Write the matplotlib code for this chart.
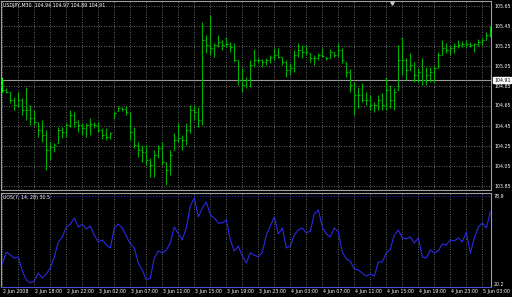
import matplotlib
matplotlib.use("Agg")
import matplotlib.pyplot as plt
from matplotlib.collections import LineCollection

W, H = 512, 297

# USDJPY M30 bars (high, low, close)
highs = [
    104.93, 104.83, 104.79, 104.74, 104.79, 104.73, 104.84, 104.66, 104.61, 104.49,
    104.51, 104.41, 104.29, 104.28, 104.44, 104.44, 104.48, 104.61, 104.59, 104.51,
    104.48, 104.48, 104.53, 104.49, 104.49, 104.43, 104.43, 104.39, 104.60, 104.65,
    104.64, 104.65, 104.58, 104.44, 104.29, 104.26, 104.26, 104.13, 104.21, 104.26,
    104.29, 104.09, 104.21, 104.38, 104.48, 104.36, 104.48, 104.66, 104.66, 104.64,
    105.49, 105.36, 105.56, 105.28, 105.36, 105.31, 105.34, 105.29, 105.28, 105.11,
    105.03, 104.94, 105.11, 105.22, 105.13, 105.12, 105.13, 105.16, 105.23, 105.23,
    105.14, 105.11, 105.08, 105.21, 105.28, 105.26, 105.26, 105.18, 105.16, 105.18,
    105.23, 105.14, 105.22, 105.19, 105.28, 105.23, 105.09, 105.02, 104.89, 104.84,
    104.88, 104.79, 104.76, 104.69, 104.76, 104.78, 104.94, 104.86, 104.83, 105.26,
    105.34, 105.13, 105.18, 105.09, 105.03, 105.13, 105.04, 105.04, 105.06, 105.19,
    105.31, 105.28, 105.25, 105.28, 105.31, 105.30, 105.31, 105.29, 105.28, 105.32,
    105.33, 105.39, 105.45,
]
lows = [
    104.79, 104.78, 104.68, 104.61, 104.64, 104.56, 104.51, 104.46, 104.46, 104.34,
    104.29, 104.01, 104.11, 104.19, 104.28, 104.33, 104.34, 104.44, 104.44, 104.39,
    104.36, 104.34, 104.36, 104.43, 104.39, 104.32, 104.31, 104.32, 104.53, 104.60,
    104.60, 104.56, 104.31, 104.23, 104.14, 104.09, 104.06, 103.94, 103.94, 104.13,
    104.06, 103.86, 103.96, 104.21, 104.29, 104.21, 104.26, 104.38, 104.51, 104.44,
    104.46, 105.18, 105.16, 105.14, 105.24, 105.21, 105.24, 105.19, 105.09, 104.86,
    104.79, 104.83, 104.84, 105.04, 105.08, 105.04, 105.06, 105.08, 105.11, 105.13,
    105.06, 104.94, 104.96, 104.99, 105.14, 105.13, 105.16, 105.09, 105.06, 105.11,
    105.14, 105.11, 105.13, 105.14, 105.14, 105.08, 104.94, 104.79, 104.56, 104.63,
    104.69, 104.66, 104.61, 104.59, 104.61, 104.61, 104.61, 104.63, 104.61, 104.81,
    104.96, 104.91, 105.01, 104.89, 104.88, 104.86, 104.86, 104.89, 104.88, 105.03,
    105.16, 105.18, 105.16, 105.18, 105.23, 105.24, 105.23, 105.24, 105.19, 105.25,
    105.26, 105.31, 105.34,
]
closes = [
    104.81, 104.79, 104.71, 104.66, 104.71, 104.61, 104.61, 104.53, 104.49, 104.41,
    104.36, 104.21, 104.24, 104.26, 104.41, 104.39, 104.46, 104.56, 104.49, 104.46,
    104.43, 104.46, 104.47, 104.46, 104.41, 104.36, 104.34, 104.38, 104.58, 104.63,
    104.62, 104.59, 104.39, 104.26, 104.21, 104.19, 104.11, 104.06, 104.16, 104.23,
    104.09, 104.01, 104.16, 104.31, 104.33, 104.31, 104.41, 104.61, 104.59, 104.51,
    105.31, 105.26, 105.23, 105.26, 105.29, 105.26, 105.27, 105.24, 105.11, 104.91,
    104.86, 104.91, 105.06, 105.11, 105.11, 105.09, 105.11, 105.14, 105.16, 105.14,
    105.09, 105.01, 105.03, 105.16, 105.21, 105.19, 105.19, 105.13, 105.13, 105.16,
    105.15, 105.13, 105.19, 105.16, 105.21, 105.11, 104.99, 104.86, 104.76, 104.76,
    104.71, 104.71, 104.66, 104.66, 104.71, 104.66, 104.81, 104.71, 104.79, 105.11,
    105.11, 105.01, 105.06, 104.96, 104.99, 104.91, 104.96, 104.99, 105.03, 105.16,
    105.23, 105.21, 105.23, 105.25, 105.26, 105.27, 105.27, 105.26, 105.27, 105.29,
    105.31, 105.36, 105.38,
]

# Ultimate oscillator UOS(7, 14, 28)
uos = [
    33.5, 41.5, 39.5, 37.5, 38.2, 28.9, 22.9, 20.9, 22.2, 27.5,
    24.2, 26.9, 30.9, 38.2, 48.2, 51.6, 58.2, 60.2, 64.2, 58.2,
    60.2, 56.9, 58.9, 52.9, 48.2, 49.6, 46.2, 44.2, 57.6, 60.2,
    57.6, 52.2, 46.9, 44.2, 34.2, 29.5, 22.9, 24.2, 37.5, 42.2,
    40.9, 42.9, 47.6, 58.2, 53.6, 49.6, 57.6, 72.2, 77.6, 64.9,
    70.9, 74.9, 66.2, 64.2, 60.9, 60.9, 62.9, 49.6, 42.2, 45.5,
    38.9, 34.2, 40.9, 39.5, 38.2, 41.5, 52.9, 58.9, 64.9, 53.6,
    57.6, 44.2, 45.5, 52.9, 56.2, 57.6, 54.2, 55.6, 66.9, 69.6,
    58.2, 53.6, 51.6, 57.6, 54.9, 41.5, 36.9, 35.5, 30.2, 29.5,
    27.5, 25.5, 26.9, 25.5, 34.9, 34.9, 40.9, 43.5, 52.9, 56.2,
    50.9, 50.2, 51.6, 47.6, 50.9, 38.2, 37.5, 42.9, 40.9, 42.2,
    46.9, 46.2, 49.6, 48.9, 50.9, 48.2, 54.9, 40.9, 50.9, 58.2,
    60.9, 57.6, 68.2,
]

time_labels = [
    "2 Jun 2008", "2 Jun 18:00", "2 Jun 22:00", "3 Jun 02:00",
    "3 Jun 07:00", "3 Jun 11:00", "3 Jun 15:00", "3 Jun 19:00",
    "3 Jun 23:00", "4 Jun 03:00", "4 Jun 07:00", "4 Jun 11:00",
    "4 Jun 15:00", "4 Jun 19:00", "4 Jun 23:00", "5 Jun 03:00",
]
price_ticks = [105.65, 105.45, 105.25, 105.05, 104.85, 104.65, 104.45, 104.25, 104.05, 103.85]
bid = 104.91
uos_max, uos_min = 78.9, 20.2
header = "USDJPY,M30  104.94 104.97 104.89 104.91"
uos_header = "UOS(7, 14, 28) 30.5"

BAR_COLOR = "#00b000"
GRID_COLOR = "#8a8a8a"
FRAME_COLOR = "#a0a0a0"
LINE_COLOR = "#2a2ae6"
FS = 3.4

n = len(closes)
xs = list(range(n))
opens = [closes[0] + 0.05] + closes[:-1]
opens = [min(max(o, l), h) for o, l, h in zip(opens, lows, highs)]

fig = plt.figure(figsize=(W / 100, H / 100), dpi=100, facecolor="black")


def px_rect(left, top, right, bottom):
    return [left / W, 1 - bottom / H, (right - left) / W, (bottom - top) / H]


ax = fig.add_axes(px_rect(1, 1, 491, 190))
ax2 = fig.add_axes(px_rect(1, 193, 491, 287))

xlim = (-0.325, 122.17)
for a in (ax, ax2):
    a.set_facecolor("black")
    a.set_xlim(*xlim)
    a.set_xticks([])
    a.set_yticks([])
    for s in a.spines.values():
        s.set_color(FRAME_COLOR)
        s.set_linewidth(0.8)
    for k in range(0, n, 4):
        a.axvline(k, color=GRID_COLOR, lw=0.6, ls=(0, (1, 2)), zorder=0)

ax.set_ylim(103.81, 105.70)
for p in price_ticks:
    ax.axhline(p, color=GRID_COLOR, lw=0.6, ls=(0, (1, 2)), zorder=0)
ax.axhline(bid, color="#9a9a9a", lw=0.8, zorder=1)

# OHLC bars
segs = []
for i in xs:
    segs.append(((i, lows[i]), (i, highs[i])))
    segs.append(((i - 0.3, opens[i]), (i, opens[i])))
    segs.append(((i, closes[i]), (i + 0.3, closes[i])))
ax.add_collection(LineCollection(segs, colors=BAR_COLOR, linewidths=0.8, zorder=3))
ax.plot([0, 0], [lows[0], highs[0]], color="#00ff00", lw=0.8, zorder=4)

# chart shift marker
ax.plot([97.5], [105.685], marker="v", ms=2.5, color="#c8c8c8", zorder=5)

# indicator window
ax2.set_ylim(18.2, 80.9)
ax2.spines["bottom"].set_color("#4a4ad8")
ax2.axhline(uos_max, color=LINE_COLOR, lw=0.7, ls=(0, (1, 2)), zorder=1)
ax2.plot(xs, uos, color=LINE_COLOR, lw=0.8, zorder=3)

# texts
fig.text(3 / W, 1 - 5 / H, header, color="white", fontsize=FS, va="center", ha="left")
fig.text(3 / W, 1 - 198 / H, uos_header, color="white", fontsize=FS, va="center", ha="left")

for p in price_ticks:
    y = 6 + (105.65 - p) * 100
    fig.text(494 / W, 1 - y / H, f"{p:.2f}", color="white", fontsize=FS, va="center", ha="left")
fig.text(494 / W, 1 - 80 / H, f"{bid:.2f}", color="black", fontsize=FS, va="center", ha="left",
         bbox=dict(boxstyle="square,pad=0.15", fc="white", ec="white"))
fig.text(494 / W, 1 - 197 / H, f"{uos_max}", color="white", fontsize=FS, va="center", ha="left")
fig.text(494 / W, 1 - 284 / H, f"{uos_min}", color="white", fontsize=FS, va="center", ha="left")

for k, lab in enumerate(time_labels):
    xpx = 2 + 32 * k
    fig.text((xpx + 1) / W, 1 - 292 / H, lab, color="white", fontsize=FS, va="center", ha="left")

fig.savefig("out.png", dpi=100, facecolor="black")
